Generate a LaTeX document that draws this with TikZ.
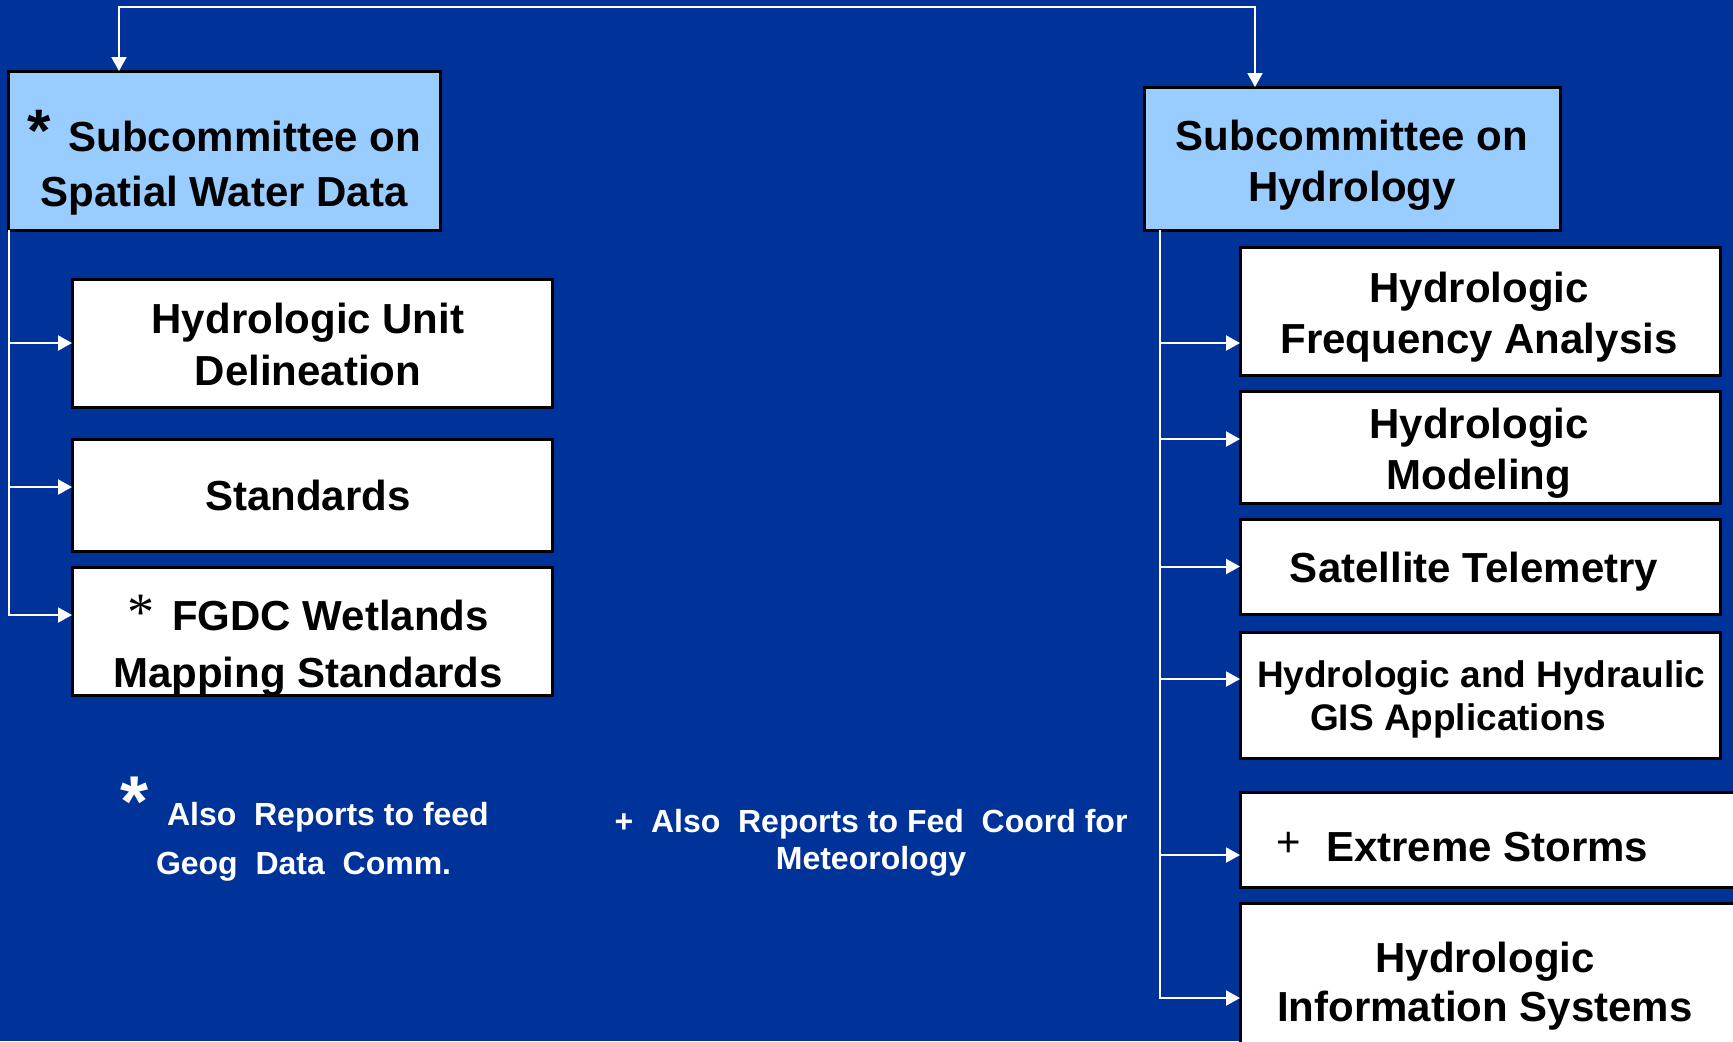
\documentclass[tikz,border=0pt]{standalone}
\usepackage{fontspec}
\setmainfont{Liberation Sans}
\newfontfamily\serifstar{Liberation Serif}
\usetikzlibrary{arrows.meta}
\definecolor{bg}{HTML}{003399}
\definecolor{lblue}{HTML}{99CCFF}
\begin{document}
\begin{tikzpicture}[x=0.5pt,y=-0.5pt,
  box/.style={draw=black, line width=1.5pt, fill=white, inner sep=0pt, outer sep=0pt, anchor=north west},
  headbox/.style={box, fill=lblue},
  lbl/.style={inner sep=0pt, outer sep=0pt, align=center, text=black},
  note/.style={inner sep=0pt, outer sep=0pt, text=white},
  wire/.style={draw=white, line width=1pt, -{Triangle[length=7pt,width=7.5pt]}},
  wire2/.style={draw=white, line width=1pt, {Triangle[length=7pt,width=7.5pt]}-{Triangle[length=7pt,width=7.5pt]}},
]
\useasboundingbox (0,0) rectangle (1733,1041);
\fill[bg] (0,0) rectangle (1733,1041);
\clip (0,0) rectangle (1733,1041);

% boxes
\node[headbox, minimum width=216pt, minimum height=79.5pt] (swd) at (8,71) {};
\node[headbox, minimum width=208pt, minimum height=71.5pt] (hyd) at (1144,87) {};
\node[box, minimum width=240pt, minimum height=64pt] (hud) at (72,279) {};
\node[box, minimum width=240pt, minimum height=56pt] (std) at (72,439) {};
\node[box, minimum width=240pt, minimum height=64pt] (fgdc) at (72,567) {};
\node[box, minimum width=240pt, minimum height=64pt] (hfa) at (1240,247) {};
\node[box, minimum width=240pt, minimum height=56pt] (hm) at (1240,391) {};
\node[box, minimum width=240pt, minimum height=47.5pt] (st) at (1240,519) {};
\node[box, minimum width=240pt, minimum height=63pt] (hh) at (1240,632) {};
\node[box, minimum width=260pt, minimum height=47.5pt] (es) at (1240,792) {};
\node[box, minimum width=260pt, minimum height=78.5pt] (his) at (1240,903) {};

% labels
\node[lbl, font=\bfseries\fontsize{21}{27.5}\selectfont] (swdt) at (224,168)
  {\smash{\fontsize{30}{30}\selectfont *}\hspace{9pt}Subcommittee on\\Spatial Water Data};
\node[lbl, font=\bfseries\fontsize{21}{25.5}\selectfont] (hydt) at (1352,165.5)
  {Subcommittee on\\Hydrology};
\node[lbl, font=\bfseries\fontsize{21}{26}\selectfont] (hudt) at (308,344.5)
  {Hydrologic Unit\\Delineation};
\node[lbl, font=\bfseries\fontsize{21}{25}\selectfont, anchor=base] (stdt) at (308,510)
  {Standards};
\node[lbl, font=\bfseries\fontsize{21}{28.5}\selectfont] (fgdct) at (308,648)
  {\smash{\serifstar\mdseries\fontsize{27}{27}\selectfont *}\hspace{9pt}FGDC Wetlands\\Mapping Standards};
\node[lbl, font=\bfseries\fontsize{21}{25.5}\selectfont] (hfat) at (1479,317.5)
  {Hydrologic\\Frequency Analysis};
\node[lbl, font=\bfseries\fontsize{21}{25.5}\selectfont] (hmt) at (1479,453.5)
  {Hydrologic\\Modeling};
\node[lbl, font=\bfseries\fontsize{21}{25}\selectfont, anchor=base] (stt) at (1474,582)
  {Satellite Telemetry};
\node[lbl, font=\bfseries\fontsize{18.5}{21.5}\selectfont, align=left, anchor=west] (hht) at (1257,699)
  {Hydrologic and Hydraulic\\\hspace*{26.5pt}GIS Applications};
\node[lbl, font=\bfseries\fontsize{21}{25}\selectfont, anchor=base west] (est) at (1276,861)
  {\smash{\raisebox{2.5pt}{\mdseries +}}\hspace{12.75pt}Extreme Storms};
\node[lbl, font=\bfseries\fontsize{21}{24.5}\selectfont] (hist) at (1485,986.5)
  {Hydrologic\\Information Systems};

% footnotes
\node[note, font=\bfseries\fontsize{36}{36}\selectfont, anchor=base west] (star) at (120,826) {*};
\node[note, font=\bfseries\fontsize{16}{24.5}\selectfont, align=left, anchor=north west] (noteA) at (156,802.5)
  {\hspace*{5.5pt}Also~ Reports to feed\\Geog~ Data~ Comm.};
\node[note, font=\bfseries\fontsize{16}{18.7}\selectfont, align=center, anchor=north] (noteB) at (871,809)
  {+~ Also~ Reports to Fed~ Coord for\\Meteorology};

% connectors
\coordinate (topy) at (0,7);
\coordinate (swdtop) at ([xshift=55.5pt]swd.north west);
\coordinate (hydtop) at ([xshift=55.5pt]hyd.north west);
\draw[wire2] (swdtop) -- (swdtop |- topy) -- (hydtop |- topy) -- (hydtop);

\coordinate (lb) at ([xshift=0.5pt]swd.south west);
\draw[wire] (lb) |- (hud.west);
\draw[wire] (lb) |- ([yshift=4pt]std.west);
\draw[wire] (lb) |- ([yshift=8pt]fgdc.west);

\coordinate (rb) at ([xshift=8pt]hyd.south west);
\draw[wire] (rb) |- ([yshift=-16pt]hfa.west);
\draw[wire] (rb) |- ([yshift=4pt]hm.west);
\draw[wire] (rb) |- (st.west);
\draw[wire] (rb) |- ([yshift=8pt]hh.west);
\draw[wire] (rb) |- ([yshift=-7.75pt]es.west);
\draw[wire] (rb) |- ([yshift=-8.25pt]his.west);
\end{tikzpicture}
\end{document}
